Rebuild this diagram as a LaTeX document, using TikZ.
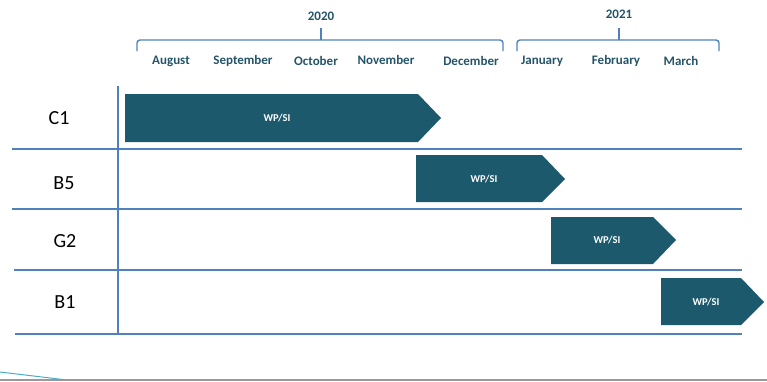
\documentclass[tikz,border=0pt]{standalone}
\usepackage{fontspec}
\setmainfont{Carlito}
\usepackage{tikz}

\definecolor{barteal}{RGB}{28,89,108}
\definecolor{gridblue}{RGB}{79,129,189}
\definecolor{monthteal}{RGB}{36,84,104}
\definecolor{slidecyan}{RGB}{75,172,198}

\tikzset{
  gridline/.style={gridblue, line width=2pt},
  yearbrace/.style={gridblue, line width=1.4pt, rounded corners=3pt},
  monthlabel/.style={font=\bfseries\fontsize{13}{15}\selectfont, text=monthteal},
  rowlabel/.style={font=\fontsize{20}{23}\selectfont},
  wpbar/.style={fill=barteal, draw=none},
  wptext/.style={font=\bfseries\fontsize{10.5}{12}\selectfont, text=white},
}

\begin{document}
\begin{tikzpicture}[x=1pt,y=-1pt]
  \useasboundingbox (0,0) rectangle (767,381);
  % years and braces
  \draw[yearbrace] (137,51) -- (137,40) -- (503,40) -- (503,51);
  \draw[yearbrace] (321,40) -- (321,28);
  \draw[yearbrace] (517,51) -- (517,40) -- (719,40) -- (719,51);
  \draw[yearbrace] (619,40) -- (619,28);
  \node[monthlabel] (y2020) at (321,16) {2020};
  \node[monthlabel] (y2021) at (619,14) {2021};
  % months
  \node[monthlabel] (aug) at (171,61) {August};
  \node[monthlabel] (sep) at (243,61) {September};
  \node[monthlabel] (oct) at (316,61) {October};
  \node[monthlabel] (nov) at (386,60) {November};
  \node[monthlabel] (dec) at (471,61) {December};
  \node[monthlabel] (jan) at (542,61) {January};
  \node[monthlabel] (feb) at (616,61) {February};
  \node[monthlabel] (mar) at (681,61) {March};
  % grid
  \draw[gridline] (118,86) -- (118,334);
  \draw[gridline] (12,149) -- (742,149);
  \draw[gridline] (12,209) -- (742,209);
  \draw[gridline] (14,270) -- (742,270);
  \draw[gridline] (15,334) -- (742,334);
  % rows
  \node[rowlabel] (c1) at (59,118) {C1};
  \node[rowlabel] (b5) at (64,183) {B5};
  \node[rowlabel] (g2) at (65,241) {G2};
  \node[rowlabel] (b1) at (65,302) {B1};
  % bars
  \fill[wpbar] (125,94) -- (418,94) -- (441,118) -- (418,142) -- (125,142) -- cycle;
  \node[wptext] (wpc1) at (277,118) {WP/SI};
  \fill[wpbar] (416,155) -- (542,155) -- (565,179) -- (542,202) -- (416,202) -- cycle;
  \node[wptext] (wpb5) at (484,179) {WP/SI};
  \fill[wpbar] (551,217) -- (653,217) -- (676,240) -- (653,264) -- (551,264) -- cycle;
  \node[wptext] (wpg2) at (607,240) {WP/SI};
  \fill[wpbar] (661,278) -- (741,278) -- (764,302) -- (741,325) -- (661,325) -- cycle;
  \node[wptext] (wpb1) at (706,302) {WP/SI};
  % slide edge
  \draw[gray!80, line width=1.5pt] (0,380) -- (767,380);
  \draw[slidecyan, line width=1pt] (0,372) -- (63,379.5);
\end{tikzpicture}
\end{document}
